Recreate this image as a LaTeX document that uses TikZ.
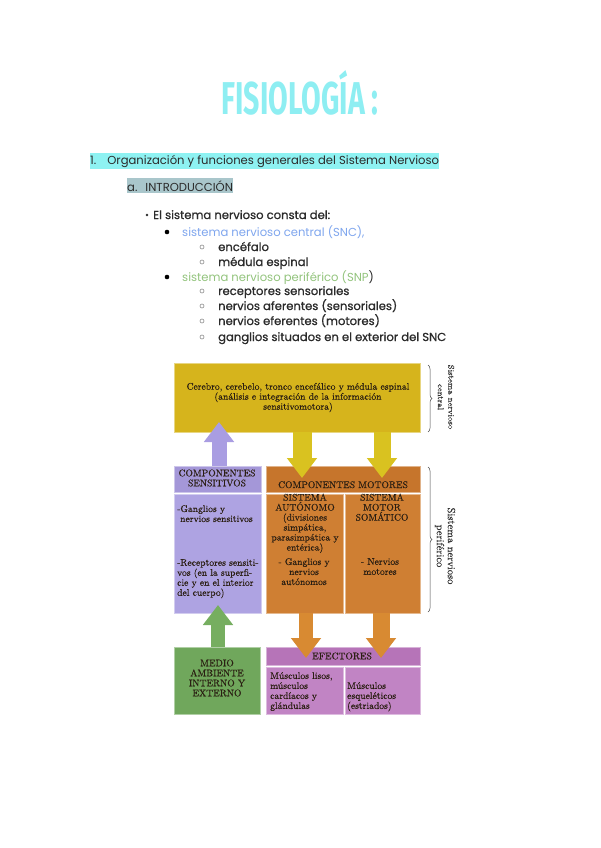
\documentclass[tikz,border=0pt]{standalone}
\usepackage{fontspec}
\usepackage{graphicx}
\newfontfamily\bodyfont{Poppins}
\newfontfamily\listfont[FakeBold=0.8]{Poppins}
\newfontfamily\titlefont{Fira Sans}
\newfontfamily\diagfont[FakeBold=0.4]{Latin Modern Roman}
\usetikzlibrary{arrows.meta,decorations.pathreplacing}
\definecolor{ttl}{HTML}{8EEEF2}
\definecolor{hlone}{HTML}{8EF2F2}
\definecolor{hltwo}{HTML}{A9C6CB}
\definecolor{snc}{HTML}{7FA6EE}
\definecolor{snp}{HTML}{93C47D}
\definecolor{txt}{HTML}{2B2B2B}
\definecolor{ylw}{HTML}{D6B41C}
\definecolor{ylwA}{HTML}{D9C220}
\definecolor{purH}{HTML}{A497D8}
\definecolor{pur}{HTML}{AEA3E2}
\definecolor{purA}{HTML}{A99DE2}
\definecolor{orH}{HTML}{C6752C}
\definecolor{orB}{HTML}{CF7F33}
\definecolor{orA}{HTML}{D88A32}
\definecolor{grn}{HTML}{70A75C}
\definecolor{grnA}{HTML}{76AE60}
\definecolor{magH}{HTML}{B674B8}
\definecolor{mag}{HTML}{C184C4}
\definecolor{dtxt}{HTML}{2A1E12}
\tikzset{
  cell/.style={anchor=north west, inner sep=0pt, outer sep=0pt, fill=#1, draw=#1!55!white, line width=0.9pt},
  dtext/.style={font=\diagfont\fontsize{9.6}{10}\selectfont, text=dtxt, inner sep=0pt, align=#1},
  body/.style={font=\bodyfont\fontsize{11.6}{13}\selectfont, text=txt, inner sep=0pt, anchor=base west},
  lst/.style={font=\listfont\fontsize{11.6}{13}\selectfont, text=txt, inner sep=0pt, anchor=base west},
  fatarrow/.style={line width=17pt, color=#1, -{Triangle[width=29pt,length=20pt]}},
  sbrace/.style={decorate, decoration={brace, amplitude=4pt}, draw=black!70, line width=0.5pt},
  side/.style={rotate=-90, align=center, inner sep=0pt, text=black!80}
}
\begin{document}
\begin{tikzpicture}[x=1pt,y=-1pt]
\useasboundingbox (0,0) rectangle (600,848);
\fill[white] (0,0) rectangle (600,848);

% title
\node[inner sep=0pt, text=ttl, anchor=base] (title) at (300,114)
  {\scalebox{0.62}[1]{\titlefont\bfseries\fontsize{46}{46}\selectfont FISIOLOGÍA :}};

% headings
\node[body, fill=hlone, inner xsep=0pt, inner ysep=2pt] (h1) at (90,164)
  {1.\hspace{11pt}Organización y funciones generales del Sistema Nervioso};
\node[body, fill=hltwo, inner xsep=0pt, inner ysep=2pt] (h2) at (127,191)
  {a.\hspace{8pt}INTRODUCCIÓN};

% list
\fill[txt] (147,215) circle (1.4);
\node[lst] (l1) at (153,219) {El sistema nervioso consta del:};
\fill[black] (167,232) circle (2.3);
\node[body, text=snc] (l2) at (182,236) {sistema nervioso central (SNC),};
\draw[black!45, line width=0.6pt] (202,247) circle (2);
\node[lst] (l3) at (218,251) {encéfalo};
\draw[black!45, line width=0.6pt] (202,262) circle (2);
\node[lst] (l4) at (218,266) {médula espinal};
\fill[black] (167,277) circle (2.3);
\node[body] (l5) at (182,281) {\textcolor{snp}{sistema nervioso periférico (SNP}{)}};
\draw[black!45, line width=0.6pt] (202,291) circle (2);
\node[lst] (l6) at (218,295) {receptores sensoriales};
\draw[black!45, line width=0.6pt] (202,306) circle (2);
\node[lst] (l7) at (218,310) {nervios aferentes (sensoriales)};
\draw[black!45, line width=0.6pt] (202,321) circle (2);
\node[lst] (l8) at (218,325) {nervios eferentes (motores)};
\draw[black!45, line width=0.6pt] (202,337) circle (2);
\node[lst] (l9) at (218,341) {ganglios situados en el exterior del SNC};

% diagram cells
\node[cell=ylw, minimum width=246pt, minimum height=69pt] (cns) at (174,363) {};
\node[cell=purH, minimum width=87pt, minimum height=26pt] (sensH) at (174,466) {};
\node[cell=pur, minimum width=87pt, minimum height=119pt] (sensB) at (174,494) {};
\node[cell=orH, minimum width=154pt, minimum height=26pt] (motH) at (266,466) {};
\node[cell=orB, minimum width=77pt, minimum height=119pt] (autB) at (266,494) {};
\node[cell=orB, minimum width=75pt, minimum height=119pt] (somB) at (345,494) {};
\node[cell=grn, minimum width=86pt, minimum height=67pt] (env) at (174,647) {};
\node[cell=magH, minimum width=154pt, minimum height=18pt] (effH) at (266,647) {};
\node[cell=mag, minimum width=77pt, minimum height=47pt] (effL) at (266,667) {};
\node[cell=mag, minimum width=75pt, minimum height=47pt] (effR) at (345,667) {};

% arrow tips
\coordinate (tP) at (219,422);
\coordinate (tY1) at (302,478);
\coordinate (tY2) at (382,478);
\coordinate (tG) at (218,605);
\coordinate (tO1) at (306,658);
\coordinate (tO2) at (381,658);

\draw[fatarrow=purA, line width=15pt] (sensH.north -| tP) -- (tP);
\draw[fatarrow=ylwA, line width=19pt] (cns.south -| tY1) -- (tY1);
\draw[fatarrow=ylwA] (cns.south -| tY2) -- (tY2);
\draw[fatarrow=grnA, line width=14pt] (env.north -| tG) -- (tG);
\draw[fatarrow=orA, line width=14pt] (autB.south -| tO1) -- (tO1);
\draw[fatarrow=orA] (somB.south -| tO2) -- (tO2);

% texts
\node[dtext=center] (cnsT) at (298,397.5)
  {Cerebro, cerebelo, tronco encefálico y médula espinal\\(análisis e integración de la información\\sensitivomotora)};
\node[dtext=center] (sensHT) at (217,478) {COMPONENTES\\SENSITIVOS};
\node[dtext=left, anchor=north west] (sensT1) at (177,505) {-Ganglios y\\\hspace*{3pt}nervios sensitivos};
\node[dtext=left, anchor=north west] (sensT2) at (177,559) {-Receptores sensiti-\\vos (en la superfi-\\cie y en el interior\\del cuerpo)};
\node[dtext=center, anchor=base] (motHT) at (343,488) {COMPONENTES MOTORES};
\node[dtext=center, anchor=north] (autT1) at (305,493.5) {SISTEMA\\AUTÓNOMO\\(divisiones\\simpática,\\parasimpática y\\entérica)};
\node[dtext=center, anchor=north] (autT2) at (304,558) {- Ganglios y\\nervios\\autónomos};
\node[dtext=center, anchor=north] (somT1) at (382,493.5) {SISTEMA\\MOTOR\\SOMÁTICO};
\node[dtext=center, anchor=north] (somT2) at (380,558) {- Nervios\\motores};
\node[dtext=center] (envT) at (217,678) {MEDIO\\AMBIENTE\\INTERNO Y\\EXTERNO};
\node[dtext=center] (effHT) at (342,656) {EFECTORES};
\node[dtext=left, anchor=north west] (effLT) at (270,672) {Músculos lisos,\\músculos\\cardíacos y\\glándulas};
\node[dtext=left, anchor=north west] (effRT) at (347,682) {Músculos\\esqueléticos\\(estriados)};

% braces and side labels
\draw[sbrace] (428,365) -- (428,432);
\draw[sbrace] (428,467) -- (428,612);
\node[side, font=\diagfont\fontsize{8.3}{10.5}\selectfont] (sncL) at (446,397) {Sistema nervioso\\central};
\node[side, font=\diagfont\fontsize{10.5}{11}\selectfont] (snpL) at (445,546) {Sistema nervioso\\periférico};
\end{tikzpicture}
\end{document}
